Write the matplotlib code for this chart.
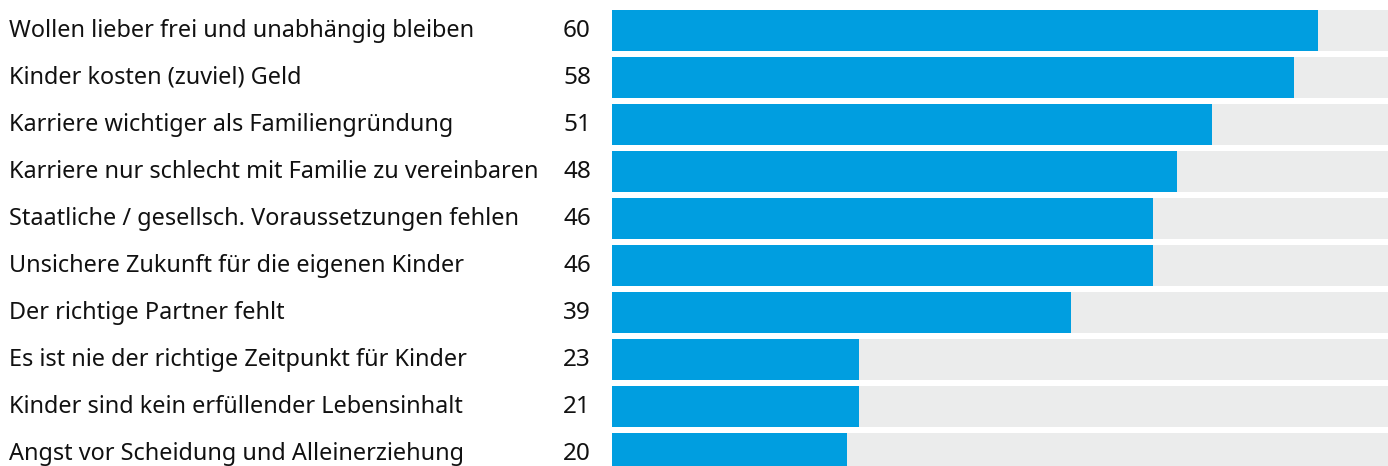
import matplotlib
matplotlib.use("Agg")
import matplotlib.pyplot as plt

categories = [
    "Wollen lieber frei und unabhängig bleiben",
    "Kinder kosten (zuviel) Geld",
    "Karriere wichtiger als Familiengründung",
    "Karriere nur schlecht mit Familie zu vereinbaren",
    "Staatliche / gesellsch. Voraussetzungen fehlen",
    "Unsichere Zukunft für die eigenen Kinder",
    "Der richtige Partner fehlt",
    "Es ist nie der richtige Zeitpunkt für Kinder",
    "Kinder sind kein erfüllender Lebensinhalt",
    "Angst vor Scheidung und Alleinerziehung",
]
value_labels = ["60", "58", "51", "48", "46", "46", "39", "23", "21", "20"]
bar_values = [60, 58, 51, 48, 46, 46, 39, 21, 21, 20]
background_max = 66

W, H = 1388, 466
fig = plt.figure(figsize=(W / 100, H / 100), dpi=100)
ax = fig.add_axes([612 / W, 0, 776 / W, 1])

pitch = 47.0
bar_h = 41 / pitch
ys = list(range(len(categories)))
ax.barh(ys, [background_max] * len(ys), height=bar_h, color="#EBECEC", left=0)
ax.barh(ys, bar_values, height=bar_h, color="#009EE0", left=0)
ax.set_xlim(0, 776 / 11.767)
ax.set_ylim((H - 30.5) / pitch, -30.5 / pitch)
ax.axis("off")

font = "Noto Sans"
trans = matplotlib.transforms.blended_transform_factory(fig.transFigure, ax.transData)
for y, cat, lab in zip(ys, categories, value_labels):
    yb = y + 6.3 / pitch
    fig.text(9 / W, yb, cat, transform=trans, ha="left", va="baseline",
             fontsize=16.9, family=font, color="#111111")
    fig.text(591 / W, yb, lab, transform=trans, ha="right", va="baseline",
             fontsize=17.5, family=font, color="#111111")

fig.savefig("out.png", dpi=100)
